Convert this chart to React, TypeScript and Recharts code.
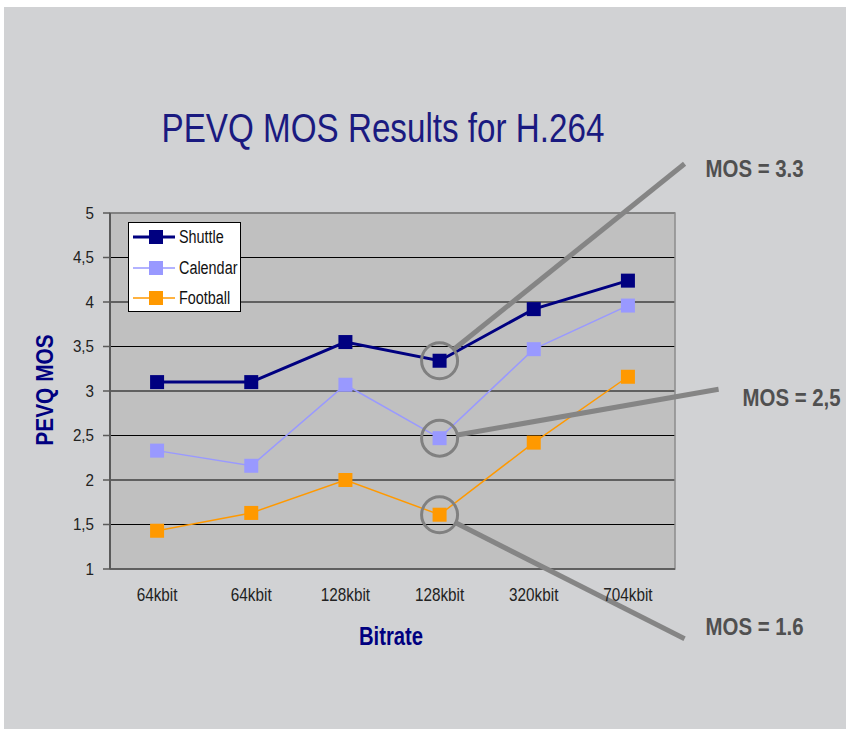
import React from 'react';
import {
  LineChart,
  Line,
  XAxis,
  YAxis,
  CartesianGrid,
  ReferenceArea,
  ReferenceDot,
} from 'recharts';

// ---- data ----
const categories = ['64kbit', '64kbit', '128kbit', '128kbit', '320kbit', '704kbit'];
const shuttle = [3.1, 3.1, 3.55, 3.34, 3.92, 4.24];
const calendar = [2.33, 2.16, 3.07, 2.47, 3.47, 3.96];
const football = [1.43, 1.63, 2.0, 1.61, 2.42, 3.16];
const yTicks = [1, 1.5, 2, 2.5, 3, 3.5, 4, 4.5, 5];
const seriesNames = ['Shuttle', 'Calendar', 'Football'];
const annotationTexts = ['MOS = 3.3', 'MOS = 2,5', 'MOS = 1.6'];
const annotationIndex = 3;

// ---- styles ----
const FONT = "'Liberation Sans', Arial, sans-serif";
const W = 842;
const H = 722;
const seriesStyle = [
  { key: 'shuttle', color: '#000080', width: 3 },
  { key: 'calendar', color: '#9999ff', width: 1.5 },
  { key: 'football', color: '#ff9900', width: 1.5 },
];
const annotationStyle = [
  { dx: 245, dy: -197, tx: 21, ty: 5 },
  { dx: 279, dy: -49, tx: 24, ty: 8 },
  { dx: 245, dy: 124, tx: 21, ty: -12 },
];

const data = categories.map((c, i) => ({
  x: i + 0.5,
  label: c,
  shuttle: shuttle[i],
  calendar: calendar[i],
  football: football[i],
}));
const seriesValues = [shuttle, calendar, football];
const labelTicks = categories.map((_, i) => i + 0.5);
const frameTicks = [0, ...categories.map((_, i) => i + 1)];

const makeDot = (color: string) => (props: any) => {
  const { cx, cy, index } = props;
  if (cx == null || cy == null) return <g key={`d-${index}`} />;
  return <rect key={`d-${index}`} x={cx - 7} y={cy - 7} width={14} height={14} fill={color} />;
};

const XTick = (props: any) => {
  const { x, y, payload } = props;
  return (
    <g transform={`translate(${x},${y}) scale(0.85,1)`}>
      <text x={0} y={0} dy="0.71em" textAnchor="middle" fontFamily={FONT} fontSize={18} fill="#222222">
        {categories[Math.floor(payload.value)]}
      </text>
    </g>
  );
};

const YTick = (props: any) => {
  const { x, y, payload } = props;
  return (
    <g transform={`translate(${x},${y}) scale(0.95,1)`}>
      <text x={0} y={0} dy="0.355em" textAnchor="end" fontFamily={FONT} fontSize={16} fill="#222222">
        {String(payload.value).replace('.', ',')}
      </text>
    </g>
  );
};

const makeAnnotation = (k: number) => (props: any) => {
  const { cx, cy } = props;
  const s = annotationStyle[k];
  const r = 18;
  const len = Math.hypot(s.dx, s.dy);
  const sx = cx + (s.dx / len) * r;
  const sy = cy + (s.dy / len) * r;
  return (
    <g>
      <circle cx={cx} cy={cy} r={r} fill="none" stroke="#808080" strokeWidth={3} />
      <line x1={sx} y1={sy} x2={cx + s.dx} y2={cy + s.dy} stroke="#858585" strokeWidth={5} />
      <g transform={`translate(${cx + s.dx + s.tx},${cy + s.dy + s.ty}) scale(0.85,1)`}>
        <text
          x={0}
          y={0}
          dy="0.36em"
          fontFamily={FONT}
          fontWeight="bold"
          fontSize={24}
          fill="#505050"
        >
          {annotationTexts[k]}
        </text>
      </g>
    </g>
  );
};

export default function App() {
  return (
    <div
      style={{
        position: 'absolute',
        left: 4,
        top: 7,
        width: W,
        height: H,
        background: '#d1d2d4',
        fontFamily: FONT,
      }}
    >
      <div
        style={{
          position: 'absolute',
          left: 379,
          top: 121,
          transform: 'translate(-50%, -50%) scaleX(0.81)',
          fontSize: 41,
          color: '#1a1a80',
          lineHeight: '46px',
          whiteSpace: 'nowrap',
        }}
      >
        PEVQ MOS Results for H.264
      </div>
      <div
        style={{
          position: 'absolute',
          left: 41,
          top: 383,
          transform: 'translate(-50%, -50%) rotate(-90deg) scaleX(0.87)',
          fontSize: 24,
          fontWeight: 'bold',
          color: '#000080',
          whiteSpace: 'nowrap',
          lineHeight: '28px',
        }}
      >
        PEVQ MOS
      </div>
      <div
        style={{
          position: 'absolute',
          left: 387,
          top: 629,
          transform: 'translate(-50%, -50%) scaleX(0.81)',
          fontSize: 25,
          fontWeight: 'bold',
          color: '#000080',
          whiteSpace: 'nowrap',
          lineHeight: '28px',
        }}
      >
        Bitrate
      </div>
      <LineChart
        width={W}
        height={H}
        data={data}
        margin={{ top: 206, right: 171, bottom: 124, left: 46 }}
        style={{ position: 'absolute', left: 0, top: 0 }}
      >
        <CartesianGrid
          xAxisId="lab"
          vertical={false}
          stroke="#000000"
          strokeWidth={1}
          fill="#c0c0c0"
          fillOpacity={1}
        />
        <XAxis
          xAxisId="frame"
          type="number"
          dataKey="x"
          domain={[0, 6]}
          ticks={frameTicks}
          tick={false}
          tickSize={6}
          height={6}
          axisLine={{ stroke: '#555555', strokeWidth: 1.5 }}
          tickLine={{ stroke: '#555555', strokeWidth: 1.5 }}
        />
        <XAxis
          xAxisId="lab"
          type="number"
          dataKey="x"
          domain={[0, 6]}
          ticks={labelTicks}
          interval={0}
          axisLine={false}
          tickLine={false}
          tickSize={6}
          tickMargin={7}
          height={30}
          tick={XTick}
        />
        <YAxis
          type="number"
          domain={[1, 5]}
          ticks={yTicks}
          interval={0}
          width={60}
          tickSize={7}
          tickMargin={9}
          axisLine={{ stroke: '#5a5a5a', strokeWidth: 2 }}
          tickLine={{ stroke: '#5a5a5a', strokeWidth: 1.5 }}
          tick={YTick}
        />
        <ReferenceArea
          xAxisId="lab"
          x1={0}
          x2={6}
          y1={1}
          y2={5}
          fill="none"
          stroke="#8c8c8c"
          strokeWidth={1.5}
          ifOverflow="visible"
        />
        {seriesStyle.map((s, k) => (
          <Line
            key={s.key}
            xAxisId="lab"
            type="linear"
            dataKey={s.key}
            name={seriesNames[k]}
            stroke={s.color}
            strokeWidth={s.width}
            dot={makeDot(s.color)}
            activeDot={false}
            isAnimationActive={false}
          />
        ))}
        {seriesValues.map((vals, k) => (
          <ReferenceDot
            key={`ann-${k}`}
            xAxisId="lab"
            x={annotationIndex + 0.5}
            y={vals[annotationIndex]}
            r={18}
            ifOverflow="visible"
            shape={makeAnnotation(k)}
          />
        ))}
      </LineChart>
      <div
        style={{
          position: 'absolute',
          left: 124,
          top: 215,
          width: 111,
          height: 88,
          background: '#ffffff',
          border: '1px solid #000000',
        }}
      >
        {seriesStyle.map((s, k) => (
          <div
            key={s.key}
            style={{
              position: 'absolute',
              left: 0,
              top: 1 + k * 30.5,
              height: 26,
              display: 'flex',
              alignItems: 'center',
            }}
          >
            <svg width={50} height={26} style={{ display: 'block' }}>
              <line x1={4} y1={13} x2={46} y2={13} stroke={s.color} strokeWidth={s.width} />
              <rect x={20} y={6} width={14} height={14} fill={s.color} />
            </svg>
            <span
              style={{
                fontSize: 18,
                color: '#111111',
                whiteSpace: 'nowrap',
                lineHeight: '26px',
                display: 'inline-block',
                transform: 'scaleX(0.8)',
                transformOrigin: 'left center',
              }}
            >
              {seriesNames[k]}
            </span>
          </div>
        ))}
      </div>
    </div>
  );
}
